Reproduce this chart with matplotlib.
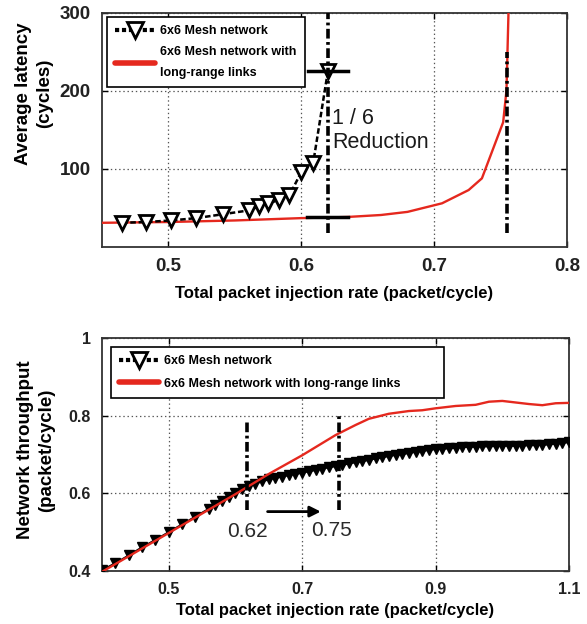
import matplotlib
matplotlib.use('Agg')
import matplotlib.pyplot as plt
from matplotlib.lines import Line2D

plt.rcParams['font.family'] = ['Liberation Sans', 'DejaVu Sans']
plt.rcParams['lines.scale_dashes'] = False

# ---------------- data: latency (top) ----------------
mesh_lat_x = [0.465, 0.483, 0.502, 0.521, 0.541, 0.561, 0.568, 0.575, 0.583, 0.591, 0.600, 0.609, 0.620]
mesh_lat_y = [31, 32, 34, 37, 42, 47, 52, 56, 60, 66, 96, 108, 225]
lr_lat_x = [0.45, 0.50, 0.55, 0.60, 0.635, 0.66, 0.68, 0.706, 0.726, 0.736, 0.752, 0.7545, 0.756]
lr_lat_y = [31, 32, 34, 37, 38.5, 41, 45, 56, 73, 88, 160, 201, 300]

# ---------------- data: throughput (bottom) ----------------
mesh_thr_x = [0.40, 0.42, 0.44, 0.46, 0.48, 0.50, 0.52, 0.54, 0.56, 0.57, 0.58, 0.59, 0.60,
              0.61, 0.62, 0.63, 0.64, 0.65, 0.66, 0.67, 0.68, 0.69, 0.70, 0.71, 0.72, 0.73,
              0.74, 0.75, 0.76, 0.77, 0.78, 0.79, 0.80, 0.81, 0.82, 0.83, 0.84, 0.85, 0.86,
              0.87, 0.88, 0.89, 0.90, 0.91, 0.92, 0.93, 0.94, 0.95, 0.96, 0.97, 0.98, 0.99,
              1.00, 1.01, 1.02, 1.03, 1.04, 1.05, 1.06, 1.07, 1.08, 1.09, 1.10]
mesh_thr_y = [0.402, 0.420, 0.440, 0.461, 0.480, 0.500, 0.520, 0.540, 0.560, 0.570, 0.580, 0.590, 0.600,
              0.610, 0.618, 0.625, 0.631, 0.636, 0.640, 0.643, 0.647, 0.650, 0.653, 0.657, 0.660, 0.664,
              0.667, 0.670, 0.673, 0.677, 0.680, 0.683, 0.686, 0.690, 0.693, 0.696, 0.699, 0.701, 0.704,
              0.707, 0.709, 0.712, 0.714, 0.715, 0.716, 0.717, 0.719, 0.720, 0.720, 0.721, 0.721, 0.722,
              0.722, 0.723, 0.722, 0.723, 0.724, 0.724, 0.725, 0.726, 0.728, 0.730, 0.732]
lr_thr_x = [0.40, 0.50, 0.60, 0.65, 0.70, 0.75, 0.78, 0.80, 0.83, 0.86, 0.88, 0.90, 0.93, 0.96,
            0.98, 1.00, 1.02, 1.04, 1.06, 1.08, 1.10]
lr_thr_y = [0.398, 0.498, 0.598, 0.650, 0.698, 0.750, 0.776, 0.792, 0.805, 0.812, 0.814, 0.819, 0.825, 0.828,
            0.836, 0.838, 0.834, 0.830, 0.827, 0.832, 0.833]

lat_xticks = [0.5, 0.6, 0.7, 0.8]
lat_yticks = [100, 200, 300]
thr_xticks = [0.5, 0.7, 0.9, 1.1]
thr_yticks = [0.4, 0.6, 0.8, 1.0]
thr_yticklabels = ['0.4', '0.6', '0.8', '1']

label_mesh = '6x6 Mesh network'
label_lr_top = '6x6 Mesh network with\nlong-range links'
label_lr_bot = '6x6 Mesh network with long-range links'
xlabel = 'Total packet injection rate (packet/cycle)'

RED = '#e5281e'
DASHDOT = (0, (7, 2.5, 2, 2.5))

fig = plt.figure(figsize=(5.87, 6.24), dpi=100)
ax1 = fig.add_axes([0.1738, 0.6042, 0.792, 0.375])
ax2 = fig.add_axes([0.1738, 0.0849, 0.7956, 0.3734])

def style(ax, fs):
    for s in ax.spines.values():
        s.set_color('#333333')
        s.set_linewidth(1.3)
    ax.tick_params(direction='in', length=4, width=1, top=True, right=True,
                   labelsize=fs, labelcolor='#222222', pad=8)
    for lab in ax.get_xticklabels() + ax.get_yticklabels():
        lab.set_fontweight('bold')
    ax.grid(True, ls=(0, (1, 2)), color='#555555', lw=0.9)

# ---------------- top ----------------
ax1.plot(lr_lat_x, lr_lat_y, color=RED, lw=1.7, zorder=3)
ax1.plot(mesh_lat_x, mesh_lat_y, color='k', ls=(0, (4, 2)), lw=1.8, marker='v', ms=10,
         mfc='white', mec='k', mew=2, zorder=4)
ax1.plot([0.62, 0.62], [18, 300], color='k', lw=2.6, ls=DASHDOT, zorder=5)
ax1.plot([0.755, 0.755], [18, 250], color='k', lw=2.6, ls=DASHDOT, zorder=5)
ax1.plot([0.605, 0.635], [226, 226], color='k', lw=2.5, zorder=5)
ax1.plot([0.604, 0.635], [38, 38], color='k', lw=2.5, zorder=5)
ax1.text(0.6233, 178, '1 / 6\nReduction', fontsize=15.5, va='top', ha='left', color='#1a1a1a',
         linespacing=1.15)
ax1.set_xlim(0.45, 0.8)
ax1.set_ylim(0, 300)
ax1.set_xticks(lat_xticks)
ax1.set_xticklabels([str(v) for v in lat_xticks])
ax1.set_yticks(lat_yticks)
style(ax1, 13.5)
ax1.set_xlabel(xlabel, fontsize=12, fontweight='bold', labelpad=8)
ax1.set_ylabel('Average latency\n(cycles)', fontsize=13.5, fontweight='bold', linespacing=1.35)
ax1.yaxis.set_label_coords(-0.105, 0.655)

h1 = Line2D([], [], color='k', ls=(0, (3, 2)), lw=3, marker='v', ms=12, mfc='white', mec='k', mew=2)
h2 = Line2D([], [], color=RED, lw=4, solid_capstyle='round')
leg1 = ax1.legend([h1, h2], [label_mesh, label_lr_top], loc='upper left',
                  bbox_to_anchor=(0.011, 0.983), borderaxespad=0, fancybox=False,
                  edgecolor='k', framealpha=1, prop={'weight': 'bold', 'size': 9},
                  handlelength=3.2, handletextpad=0.4, borderpad=0.65, labelspacing=0.75)
leg1.get_frame().set_linewidth(1.2)
for t in leg1.get_texts():
    t.set_linespacing(1.9)

# ---------------- bottom ----------------
ax2.plot(lr_thr_x, lr_thr_y, color=RED, lw=1.7, zorder=4)
ax2.plot(mesh_thr_x, mesh_thr_y, color='k', lw=1.5, marker='v', ms=7.5, mfc='k', mec='k',
         mew=1, zorder=3)
ax2.plot([0.618, 0.618], [0.557, 0.785], color='k', lw=2.6, ls=DASHDOT, zorder=5)
ax2.plot([0.755, 0.755], [0.557, 0.80], color='k', lw=2.6, ls=DASHDOT, zorder=5)
ax2.annotate('', xy=(0.732, 0.553), xytext=(0.644, 0.553),
             arrowprops=dict(arrowstyle='-|>', color='k', lw=2, mutation_scale=16))
ax2.text(0.618, 0.502, '0.62', fontsize=15, ha='center', va='center', color='#2a2a2a')
ax2.text(0.7435, 0.5055, '0.75', fontsize=15, ha='center', va='center', color='#2a2a2a')
ax2.set_xlim(0.4, 1.1)
ax2.set_ylim(0.4, 1.0)
ax2.set_xticks(thr_xticks)
ax2.set_xticklabels([str(v) for v in thr_xticks])
ax2.set_yticks(thr_yticks)
ax2.set_yticklabels(thr_yticklabels)
style(ax2, 11.5)
ax2.set_xlabel(xlabel, fontsize=12, fontweight='bold', labelpad=4)
ax2.set_ylabel('Network throughput\n(packet/cycle)', fontsize=13.5, fontweight='bold', linespacing=1.35)
ax2.yaxis.set_label_coords(-0.1, 0.52)

h3 = Line2D([], [], color='k', ls=(0, (3, 2)), lw=3, marker='v', ms=12, mfc='white', mec='k', mew=2)
h4 = Line2D([], [], color=RED, lw=4, solid_capstyle='round')
leg2 = ax2.legend([h3, h4], [label_mesh, label_lr_bot], loc='upper left',
                  bbox_to_anchor=(0.019, 0.4, 0.713, 0.561), mode='expand', borderaxespad=0,
                  fancybox=False, edgecolor='k', framealpha=1,
                  prop={'weight': 'bold', 'size': 9}, handlelength=3.2, handletextpad=0.4,
                  borderpad=0.65, labelspacing=0.85)
leg2.get_frame().set_linewidth(1.2)

fig.savefig('out.png', dpi=100)
